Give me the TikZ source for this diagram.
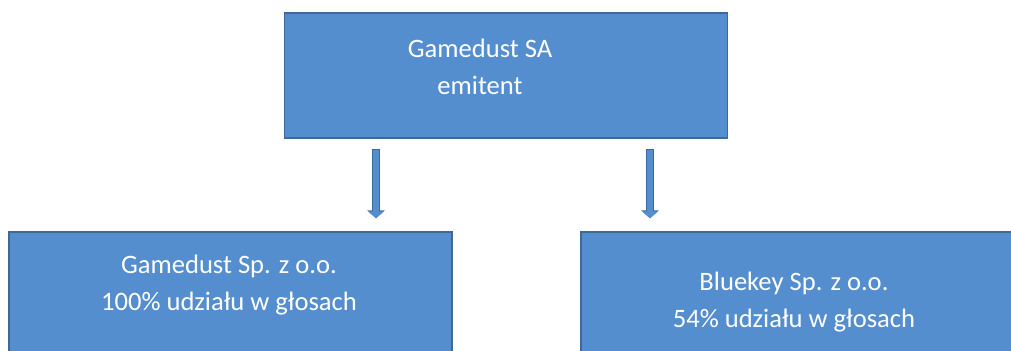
\documentclass[tikz,border=0pt]{standalone}
\usepackage{fontspec}
\setmainfont{Carlito}
\usetikzlibrary{arrows.meta}

\definecolor{boxfill}{RGB}{84,142,206}
\definecolor{boxline}{RGB}{62,106,152}

\tikzstyle{entity}=[draw=boxline, line width=0.7pt, fill=boxfill, minimum width=221.5pt, minimum height=62.5pt, inner sep=0pt]
\tikzstyle{caption}=[text=white, align=center, inner sep=0pt, font=\fontsize{13.3}{18.5}\selectfont]
\tikzstyle{arrow}=[draw=boxfill, line width=3pt, shorten <=5.5pt, shorten >=6.5pt,
  -{Triangle[width=7.6pt, length=3.4pt]},
  preaction={draw=boxline, line width=4.2pt, shorten <=5pt, -{Triangle[width=8.6pt, length=4pt]}}]

\begin{document}
\begin{tikzpicture}[x=0.5pt, y=-0.5pt]
      \path[use as bounding box, clip] (0, 0) rectangle (1011, 351);

      \node[entity] (emitent) at (506, 75.5) {};
      \node[entity] (gdsp) at (230.5, 294.5) {};
      \node[entity] (bluekey) at (802.5, 294.5) {};

      \node[caption] (emitenttext) at (480, 66.5) {Gamedust SA\\emitent};
      \node[caption] (gdsptext) at (229, 285.5) {Gamedust Sp. z o.o.\\100\% udziału w głosach};
      \node[caption] (bluekeytext) at (794, 302.5) {Bluekey Sp. z o.o.\\54\% udziału w głosach};

      \coordinate (leftx) at (376, 0);
      \coordinate (rightx) at (650, 0);

      \draw[arrow] (emitent.south -| leftx) to (gdsp.north -| leftx);
      \draw[arrow] (emitent.south -| rightx) to (bluekey.north -| rightx);
    \end{tikzpicture}
\end{document}
